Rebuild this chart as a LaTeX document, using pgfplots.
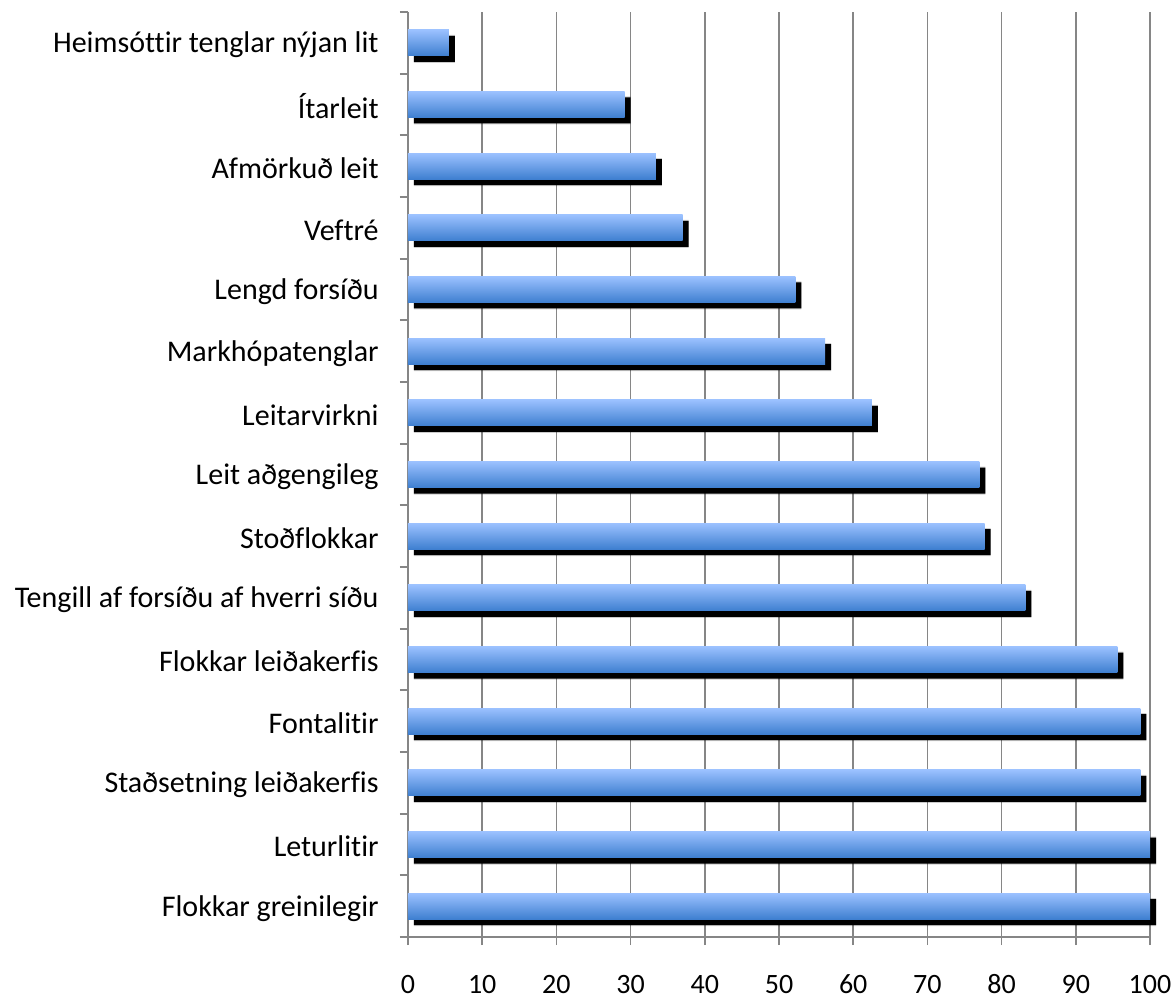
\documentclass[border=0pt]{standalone}
\usepackage{fontspec}
\setmainfont{Carlito}[Ligatures=NoCommon]
\usepackage{pgfplots}
\usepackage{pgfplotstable}
\pgfplotsset{compat=1.18}
\definecolor{gridgray}{RGB}{134,134,134}
\definecolor{bartop}{RGB}{155,193,255}
\definecolor{barbot}{RGB}{62,127,208}
\pgfplotstableread{
pos val
1 100
2 100
3 98.7
4 98.7
5 95.6
6 83.2
7 77.7
8 77.0
9 62.5
10 56.2
11 52.2
12 37.0
13 33.4
14 29.2
15 5.5
}\datatable
\begin{document}
\begin{tikzpicture}
\useasboundingbox (-306pt,-45pt) rectangle (573.75pt,702.75pt);
\begin{axis}[
  at={(0,0)}, anchor=south west,
  scale only axis,
  width=556.5pt, height=693.75pt,
  xmin=0, xmax=100, ymin=0.5, ymax=15.5,
  axis x line*=bottom, axis y line*=left,
  axis line style={gridgray, line width=1.3pt},
  xmajorgrids, grid style={gridgray, line width=1.3pt},
  xtick={0,10,...,100},
  tick align=outside,
  major tick length=6pt,
  minor tick length=6pt,
  tick style={gridgray, line width=1.3pt},
  ytick={1,...,15},
  yticklabels={Flokkar greinilegir, Leturlitir, Staðsetning leiðakerfis, Fontalitir, Flokkar leiðakerfis, Tengill af forsíðu af hverri síðu, Stoðflokkar, Leit aðgengileg, Leitarvirkni, Markhópatenglar, Lengd forsíðu, Veftré, Afmörkuð leit, Ítarleit, Heimsóttir tenglar nýjan lit},
  minor ytick={0.5,1.5,...,15.5},
  major y tick style={draw=none},
  yticklabel style={font=\fontsize{22.5pt}{26pt}\selectfont, xshift=-12.5pt, yshift=-1.5pt},
  xticklabel style={font=\fontsize{21pt}{24pt}\selectfont, inner sep=0pt, text height=13.5pt, text depth=0pt, yshift=-23pt},
  /pgf/number format/assume math mode=true,
  clip=false,
]
\addplot[xbar, bar width=21pt, bar shift=0pt, fill=black, opacity=0.2, draw=none, xshift=4.5pt, yshift=-4.5pt] table[x=val, y=pos] {\datatable};
\addplot[xbar, bar width=19.5pt, bar shift=0pt, fill=black, draw=none, xshift=4.5pt, yshift=-4.5pt] table[x=val, y=pos] {\datatable};
\pgfplotsinvokeforeach{1,...,15}{
\addplot[xbar, bar width=19.5pt, bar shift=0pt, draw=none, top color=bartop, bottom color=barbot, y filter/.expression={abs(y-#1)<0.1 ? y : nan}] table[x=val, y=pos] {\datatable};
}
\end{axis}
\end{tikzpicture}
\end{document}
